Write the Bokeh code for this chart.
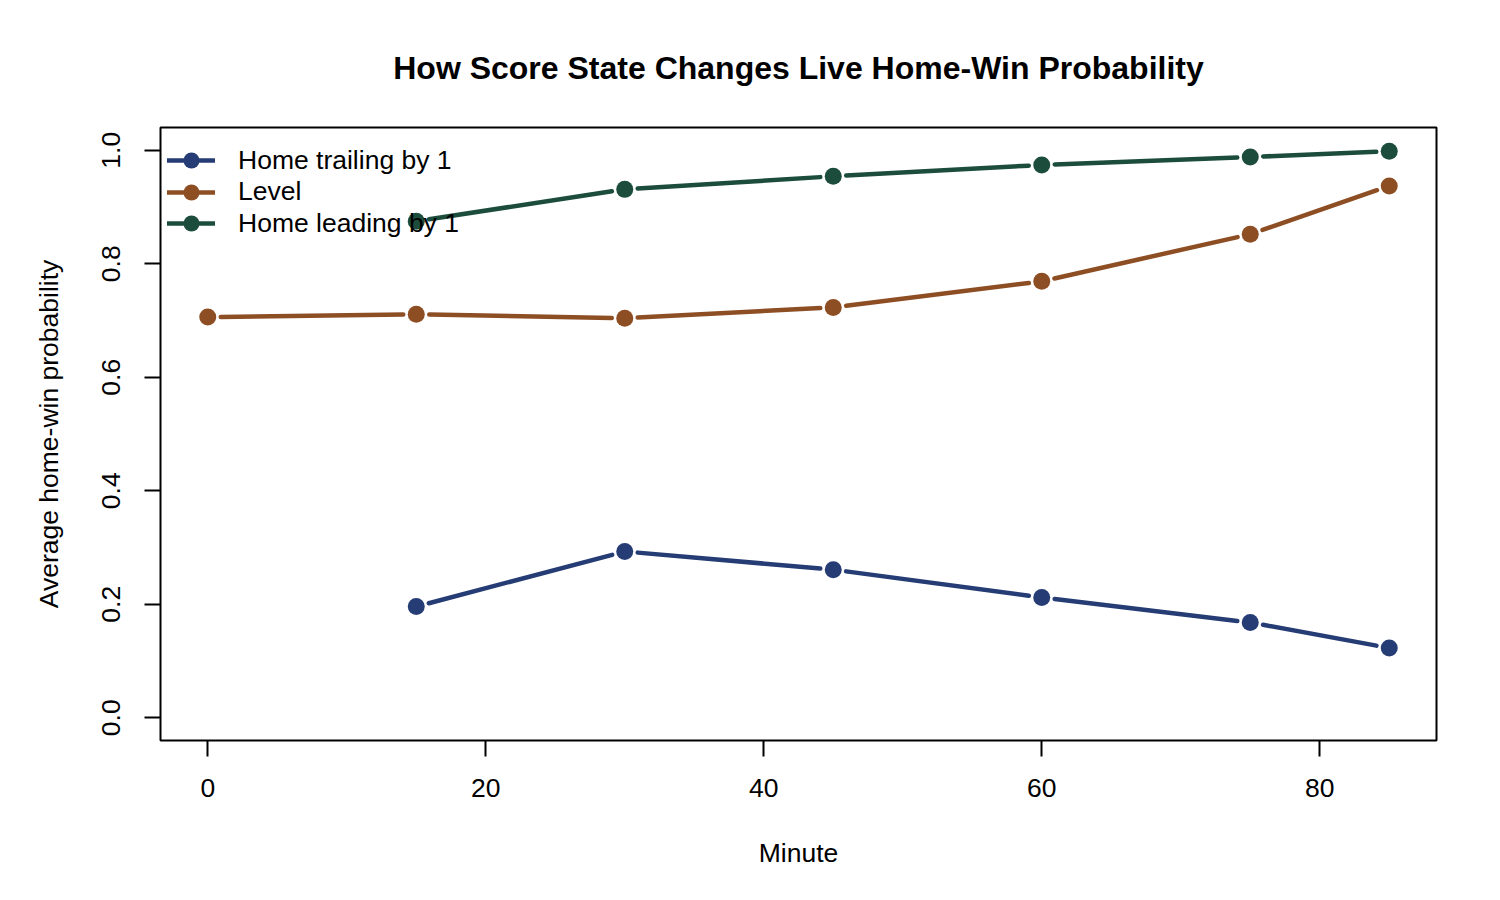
import numpy as np
from bokeh.plotting import figure
from bokeh.models import (Range1d, FixedTicker, PrintfTickFormatter, Legend,
                          LegendItem, ColumnDataSource)
from bokeh.embed import file_html
from bokeh.resources import INLINE

# ---- data ----
series_names = ["Home trailing by 1", "Level", "Home leading by 1"]
minutes_trailing = [15, 30, 45, 60, 75, 85]
prob_trailing = [0.196, 0.293, 0.261, 0.212, 0.168, 0.123]
minutes_level = [0, 15, 30, 45, 60, 75, 85]
prob_level = [0.706, 0.711, 0.704, 0.723, 0.769, 0.852, 0.937]
minutes_leading = [15, 30, 45, 60, 75, 85]
prob_leading = [0.875, 0.931, 0.954, 0.974, 0.988, 0.998]
x_ticks = [0, 20, 40, 60, 80]
y_ticks = [0.0, 0.2, 0.4, 0.6, 0.8, 1.0]
colors = ["#253C74", "#8E4E24", "#1C4C3C"]

FONT = "Liberation Sans"
FS = "26.5px"
FRAME_W, FRAME_H = 1276, 613
X0, X1 = -3.4, 88.4
Y0, Y1 = -0.04, 1.04

p = figure(frame_width=FRAME_W, frame_height=FRAME_H,
           min_border_left=160, min_border_right=56,
           min_border_top=127, min_border_bottom=150,
           x_range=Range1d(X0, X1), y_range=Range1d(Y0, Y1),
           output_backend="svg", toolbar_location=None,
           background_fill_color="white", border_fill_color="white")

p.title.text = "How Score State Changes Live Home-Win Probability"
p.title.align = "center"
p.title.text_font = FONT
p.title.text_font_size = "32px"
p.title.text_font_style = "bold"
p.title.text_color = "black"
p.title.standoff = 84

p.xgrid.visible = False
p.ygrid.visible = False
p.outline_line_color = "black"
p.outline_line_width = 2
p.outline_line_alpha = 1.0

for ax in (p.xaxis[0], p.yaxis[0]):
    ax.axis_line_color = None
    ax.major_tick_in = 0
    ax.major_tick_out = 16
    ax.major_tick_line_color = "black"
    ax.major_tick_line_width = 2
    ax.minor_tick_line_color = None
    ax.major_label_text_font = FONT
    ax.major_label_text_font_size = FS
    ax.major_label_text_color = "black"
    ax.axis_label_text_font = FONT
    ax.axis_label_text_font_size = FS
    ax.axis_label_text_font_style = "normal"
    ax.axis_label_text_color = "black"

p.xaxis[0].ticker = FixedTicker(ticks=x_ticks)
p.xaxis[0].formatter = PrintfTickFormatter(format="%d")
p.xaxis[0].axis_label = "Minute"
p.xaxis[0].major_label_standoff = 22
p.xaxis[0].axis_label_standoff = 38

p.yaxis[0].ticker = FixedTicker(ticks=y_ticks)
p.yaxis[0].formatter = PrintfTickFormatter(format="%.1f")
p.yaxis[0].major_label_orientation = "vertical"
p.yaxis[0].axis_label = "Average home-win probability"
p.yaxis[0].major_label_standoff = 24
p.yaxis[0].axis_label_standoff = 36

# pixel scale, used to leave R-style gaps (type = "b") around points
sx = FRAME_W / (X1 - X0)
sy = FRAME_H / (Y1 - Y0)
GAP = 13


def gapped_segments(xs, ys):
    xs = np.asarray(xs, float)
    ys = np.asarray(ys, float)
    dx = np.diff(xs)
    dy = np.diff(ys)
    L = np.hypot(dx * sx, dy * sy)
    f = GAP / L
    return dict(x0=xs[:-1] + dx * f, y0=ys[:-1] + dy * f,
                x1=xs[1:] - dx * f, y1=ys[1:] - dy * f)


# legend row centres, in px below the frame top
row_centres = [33, 64.5, 96]
ROW_H = 40

for name, xs, ys, c, rc in zip(series_names,
                               [minutes_trailing, minutes_level, minutes_leading],
                               [prob_trailing, prob_level, prob_leading],
                               colors, row_centres):
    seg = p.segment(x0="x0", y0="y0", x1="x1", y1="y1",
                    source=ColumnDataSource(gapped_segments(xs, ys)),
                    line_color=c, line_width=4.5, line_cap="round")
    pts = p.scatter(xs, ys, size=17, marker="circle", fill_color=c,
                    line_color=c, line_width=0)
    vy = FRAME_H - rc - ROW_H / 2
    lg = Legend(items=[LegendItem(label=name, renderers=[seg, pts])],
                location=(7, vy),
                glyph_width=48, glyph_height=ROW_H,
                label_height=ROW_H, label_standoff=23, padding=0, margin=0,
                label_text_font=FONT, label_text_font_size=FS,
                label_text_color="black", label_text_baseline="middle",
                border_line_color=None, background_fill_alpha=0)
    p.add_layout(lg)

open("out.html", "w").write(file_html(p, INLINE))
